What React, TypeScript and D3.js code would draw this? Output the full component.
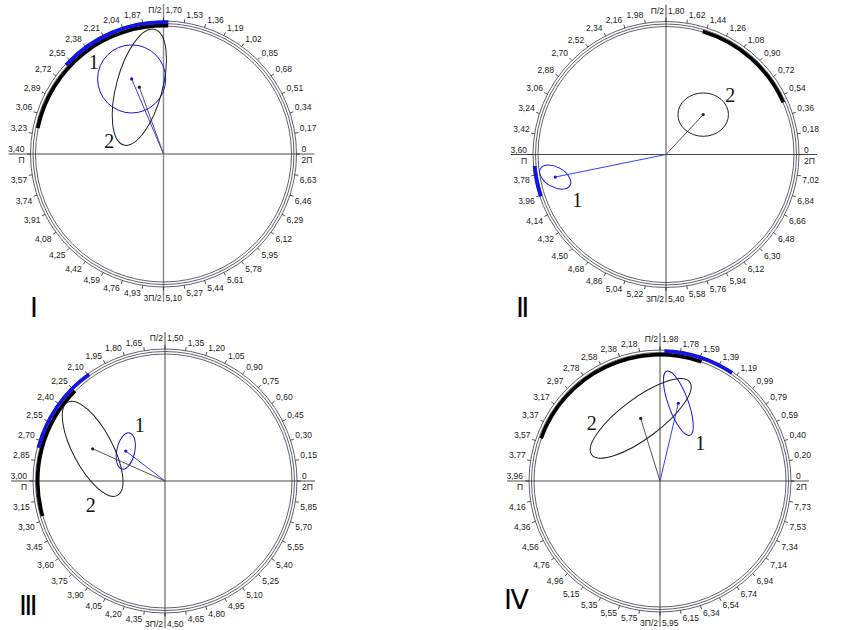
import React from "react";
import * as d3 from "d3";

// panel captions and angular scale period (value reached after a full turn)
const panelNames = ["Ⅰ", "Ⅱ", "Ⅲ", "Ⅳ"];
const periods = [6.8, 7.2, 6.0, 7.93];

// tick labels, counter-clockwise from 0 (40 ticks per turn)
const ticksI = ["0", "0,17", "0,34", "0,51", "0,68", "0,85", "1,02", "1,19", "1,36", "1,53",
  "1,70", "1,87", "2,04", "2,21", "2,38", "2,55", "2,72", "2,89", "3,06", "3,23",
  "3,40", "3,57", "3,74", "3,91", "4,08", "4,25", "4,42", "4,59", "4,76", "4,93",
  "5,10", "5,27", "5,44", "5,61", "5,78", "5,95", "6,12", "6,29", "6,46", "6,63"];
const ticksII = ["0", "0,18", "0,36", "0,54", "0,72", "0,90", "1,08", "1,26", "1,44", "1,62",
  "1,80", "1,98", "2,16", "2,34", "2,52", "2,70", "2,88", "3,06", "3,24", "3,42",
  "3,60", "3,78", "3,96", "4,14", "4,32", "4,50", "4,68", "4,86", "5,04", "5,22",
  "5,40", "5,58", "5,76", "5,94", "6,12", "6,30", "6,48", "6,66", "6,84", "7,02"];
const ticksIII = ["0", "0,15", "0,30", "0,45", "0,60", "0,75", "0,90", "1,05", "1,20", "1,35",
  "1,50", "1,65", "1,80", "1,95", "2,10", "2,25", "2,40", "2,55", "2,70", "2,85",
  "3,00", "3,15", "3,30", "3,45", "3,60", "3,75", "3,90", "4,05", "4,20", "4,35",
  "4,50", "4,65", "4,80", "4,95", "5,10", "5,25", "5,40", "5,55", "5,70", "5,85"];
const ticksIV = ["0", "0,20", "0,40", "0,59", "0,79", "0,99", "1,19", "1,39", "1,59", "1,78",
  "1,98", "2,18", "2,38", "2,58", "2,78", "2,97", "3,17", "3,37", "3,57", "3,77",
  "3,96", "4,16", "4,36", "4,56", "4,76", "4,96", "5,15", "5,35", "5,55", "5,75",
  "5,95", "6,15", "6,34", "6,54", "6,74", "6,94", "7,14", "7,34", "7,53", "7,73"];
const tickLabels = [ticksI, ticksII, ticksIII, ticksIV];
const axisSpecial = [["П/2", "П", "3П/2", "2П"]];

// highlighted sectors [from, to] in panel units
const blueArcs = [[1.66, 2.6], [3.7, 3.97], [2.09, 2.755], [1.24, 1.94]];
const blackArcs = [[1.66, 3.18], [0.478, 1.468], [2.25, 3.265], [1.56, 3.53]];

// vector 1 (blue) and vector 2 (black): phase in panel units, modulus as share of radius
const phase1 = [2.134, 3.83, 2.377, 1.69];
const amp1 = [0.613, 0.85, 0.374, 0.61];
const phase2 = [2.076, 0.94, 2.6, 2.36];
const amp2 = [0.534, 0.41, 0.6, 0.5];

// confidence ellipses: semi-axes (share of radius), major-axis angle in degrees
const ell1A = [0.256, 0.128, 0.14, 0.26];
const ell1B = [0.256, 0.075, 0.068, 0.076];
const ell1Rot = [0, -30, 78, 110];
const ell2A = [0.45, 0.19, 0.4, 0.466];
const ell2B = [0.173, 0.163, 0.15, 0.153];
const ell2Rot = [75, 0, 118, 36.6];

const layout = [
  { cx: 163.5, cy: 154, r: 133, capX: 30, capY: 317, lab1: [-38, -17], lab2: [-30, 54] },
  { cx: 666, cy: 154.5, r: 133, capX: 516, capY: 317, lab1: [22, 23], lab2: [27, -20] },
  { cx: 165, cy: 481, r: 132, capX: 19, capY: 615, lab1: [14, -26], lab2: [-2, 56] },
  { cx: 660, cy: 481, r: 131, capX: 504, capY: 609, lab1: [22, 40], lab2: [-49, 5] },
];

const BLUE = "#1414e6";
const LABEL_FONT = "'Liberation Sans', Arial, sans-serif";

const Dial = ({ i }: { i: number }) => {
  const { cx, cy, r, capX, capY, lab1, lab2 } = layout[i];
  const period = periods[i];
  const ang = d3.scaleLinear().domain([0, period]).range([0, 2 * Math.PI]);
  const rad = d3.scaleLinear().domain([0, 1]).range([0, r]);
  const px = (a: number, m: number) => cx + m * Math.cos(a);
  const py = (a: number, m: number) => cy - m * Math.sin(a);

  const arc = d3.arc<any>();
  const sector = (range: number[], inner: number, outer: number) =>
    arc({
      innerRadius: inner,
      outerRadius: outer,
      startAngle: Math.PI / 2 - ang(range[1]),
      endAngle: Math.PI / 2 - ang(range[0]),
    }) as string;

  const labels = tickLabels[i];
  const sp = axisSpecial[0];

  const vectors = [
    { ph: phase1[i], m: amp1[i], a: ell1A[i], b: ell1B[i], rot: ell1Rot[i], color: BLUE, line: "#2a44ff", lab: lab1, name: "1" },
    { ph: phase2[i], m: amp2[i], a: ell2A[i], b: ell2B[i], rot: ell2Rot[i], color: "#222", line: "#555", lab: lab2, name: "2" },
  ];

  const axisColor = i === 0 ? "#8a8a8a" : "#333";
  const hColor = i === 0 || i === 3 ? "#8a8a8a" : "#333";

  return (
    <g>
      {/* axes */}
      <line x1={cx - r - 22} x2={cx + r + 18} y1={cy} y2={cy} stroke={hColor} strokeWidth={i === 0 || i === 3 ? 1.4 : 0.9} />
      <line x1={cx} x2={cx} y1={cy - r - 17} y2={cy + r + 15} stroke={axisColor} strokeWidth={i === 0 ? 1.4 : 0.9} />

      {/* ring */}
      {[0, 2.5, 5].map((d) => (
        <circle key={d} cx={cx} cy={cy} r={r - d} fill="none" stroke="#3a3a4a" strokeWidth={0.8} />
      ))}
      <g transform={`translate(${cx},${cy})`}>
        <path d={sector(blackArcs[i], r - 6.5, r - 2.8)} fill="#000" />
        <path d={sector(blueArcs[i], r - 3, r + 0.8)} fill={BLUE} />
      </g>

      {/* ticks and labels */}
      {d3.range(40).map((k) => {
        const a = ang((k * period) / 40);
        const c = Math.cos(a);
        const s = Math.sin(a);
        const x0 = px(a, r);
        const y0 = py(a, r);
        const x1 = px(a, r + 3.5);
        const y1 = py(a, r + 3.5);
        const tick = <line x1={x0} y1={y0} x2={x1} y2={y1} stroke="#222" strokeWidth={0.8} />;
        let text: React.ReactNode = null;
        if (k === 0) {
          text = (
            <>
              <text x={cx + r + 5} y={cy - 2}>{labels[0]}</text>
              <text x={cx + r + 5} y={cy + 9}>{sp[3]}</text>
            </>
          );
        } else if (k === 20) {
          text = (
            <>
              <text x={cx - r - 6} y={cy - 2} textAnchor="end">{labels[20]}</text>
              <text x={cx - r - 6} y={cy + 9} textAnchor="end">{sp[1]}</text>
            </>
          );
        } else if (k === 10) {
          text = (
            <>
              <text x={cx - 2} y={cy - r - 8} textAnchor="end">{sp[0]}</text>
              <text x={cx + 2} y={cy - r - 8}>{labels[10]}</text>
            </>
          );
        } else if (k === 30) {
          text = (
            <>
              <text x={cx - 2} y={cy + r + 14} textAnchor="end">{sp[2]}</text>
              <text x={cx + 2} y={cy + r + 14}>{labels[30]}</text>
            </>
          );
        } else {
          const anchor = c > 0 ? "start" : "end";
          const tx = x1 + (c > 0 ? 1.5 : -1.5);
          const ty = s > 0 ? y1 - 1.5 : y1 + 7.5;
          text = (
            <text x={tx} y={ty} textAnchor={anchor}>{labels[k]}</text>
          );
        }
        return (
          <g key={k}>
            {tick}
            {text}
          </g>
        );
      })}

      {/* vectors with confidence ellipses */}
      {vectors.map((v) => {
        const a = ang(v.ph);
        const tx = px(a, rad(v.m));
        const ty = py(a, rad(v.m));
        return (
          <g key={v.name}>
            <line x1={cx} y1={cy} x2={tx} y2={ty} stroke={v.line} strokeWidth={1} />
            <ellipse cx={tx} cy={ty} rx={rad(v.a)} ry={rad(v.b)} transform={`rotate(${-v.rot},${tx},${ty})`}
              fill="none" stroke={v.color} strokeWidth={1} />
            <circle cx={tx} cy={ty} r={1.6} fill={v.color} />
            <text x={tx + v.lab[0]} y={ty + v.lab[1]} textAnchor="middle" dominantBaseline="central"
              fontFamily="'Liberation Serif', 'Times New Roman', serif" fontSize={20} fill="#111">
              {v.name}
            </text>
          </g>
        );
      })}

      <text x={capX} y={capY} fontFamily="'DejaVu Sans', sans-serif" fontSize={27} fill="#000">
        {panelNames[i]}
      </text>
    </g>
  );
};

export default function App() {
  return (
    <svg width={862} height={630} style={{ position: "absolute", left: 0, top: 0, background: "#fff" }}
      fontFamily={LABEL_FONT} fontSize={8.5} fill="#222">
      {[0, 1, 2, 3].map((i) => (
        <Dial key={i} i={i} />
      ))}
    </svg>
  );
}
